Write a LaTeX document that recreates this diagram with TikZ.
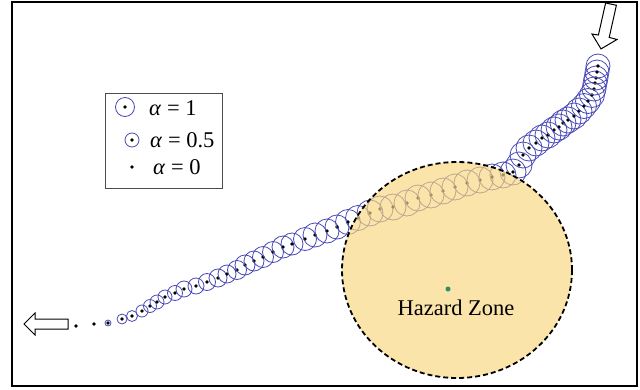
\documentclass[tikz,border=0pt]{standalone}
\usepackage{fontspec}
\setmainfont{Liberation Serif}
\usetikzlibrary{shapes.geometric}
\definecolor{trajblue}{RGB}{75,75,185}
\definecolor{zonefill}{RGB}{249,215,124}
\definecolor{centergreen}{RGB}{50,140,110}
\tikzset{
  trajcircle/.style={draw=trajblue, line width=0.8pt},
  trajdot/.style={fill=black},
  hollowarrow/.style={draw=black, fill=white, line width=1pt, line join=miter},
  zone/.style={draw=black, fill=zonefill, fill opacity=0.65, line width=1.8pt, dash pattern=on 5pt off 3pt},
  legendbox/.style={draw=black!70, line width=0.8pt},
  lbl/.style={font=\fontsize{22.5}{26}\selectfont, inner sep=0pt, anchor=west}
}
\begin{document}
\begin{tikzpicture}[x=1pt,y=-1pt]
\useasboundingbox (0,0) rectangle (640,389);
\fill[white] (0,0) rectangle (640,389);
% outer frame
\draw[line width=2.2pt] (12,2) rectangle (637,386);

% trajectory
\foreach \px/\py/\r in {
 108/323/3, 122/319/5, 132/316/5.5, 142/311/6, 150/306/6.5, 157/302/7, 165/297/7, 175/293/7.5,
 184/289/8, 196/286/8, 207/282/8.5, 218/278/9, 227/274/9, 237/270/9.5, 245/265/10, 254/261/10,
 263/257/10.5, 273/252/10.5, 283/247/11, 292/244/11, 305/239/11.5, 315/235/12, 327/231/12,
 337/227/12, 348/222/12.5, 358/218/12.5, 370/213/13, 380/209/13, 393/207/13, 407/203/13,
 418/198/13, 431/195/13, 443/191/13, 455/187/13, 467/183/13, 480/180/13, 492/177/13, 503/175/13,
 513/172/13, 519/165/13, 523/155/13, 529/148/13, 536/143/13, 542/138/13, 548/135/13, 554/130/13,
 559/127/13, 563/123/13, 568/120/13, 574/116/13, 579/111/13, 584/106/12.5, 588/101/12.5,
 592/95/12.5, 594/89/12, 595/83/12, 596/78/12, 597/72/12, 598/66/12}
{
  \draw[trajcircle] (\px,\py) circle (\r);
  \fill[trajdot] (\px,\py) circle (1.9);
}
\fill[trajdot] (76,326) circle (1.9);
\fill[trajdot] (94,324) circle (1.9);

% hazard zone
\draw[zone] (457,270) ellipse [x radius=115, y radius=108];
\fill[centergreen] (448,289) circle (2.5);
\node[font=\fontsize{22.5}{26}\selectfont, inner sep=0pt] (hz) at (456,308) {Hazard Zone};

% arrows
\draw[hollowarrow] (605.6,3) -- (598.4,35.0) -- (592,34) -- (601,48.9) -- (617,39.5) -- (609.2,37.4) -- (616.4,5.2) -- cycle;
\draw[hollowarrow] (68,319) -- (35,319) -- (35,313) -- (24,324) -- (35,335) -- (35,329) -- (68,329) -- cycle;

% legend
\draw[legendbox] (105,93) rectangle (222,188);
\draw[trajcircle] (125,107) circle (9.5);
\fill[trajdot] (125,107) circle (1.9);
\draw[trajcircle] (132,140) circle (7);
\fill[trajdot] (132,140) circle (1.9);
\fill[trajdot] (132,167) circle (1.9);
\node[lbl] (l1) at (149,108) {\textit{α} = 1};
\node[lbl] (l2) at (150,140) {\textit{α} = 0.5};
\node[lbl] (l3) at (153,167) {\textit{α} = 0};
\end{tikzpicture}
\end{document}
